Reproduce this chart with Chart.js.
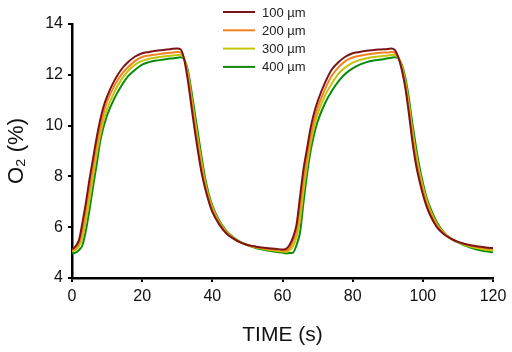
<!DOCTYPE html>
<html>
<head>
<meta charset="utf-8">
<script src="https://cdn.jsdelivr.net/npm/chart.js@4.4.0/dist/chart.umd.min.js"></script>
<style>
  html, body { margin: 0; padding: 0; background: #fff; }
  #wrap { width: 512px; height: 352px; }
</style>
</head>
<body>
<div id="wrap"><canvas id="chart" width="512" height="352"></canvas></div>
<script>
// time in seconds
const times = [0,1,2,3,4,5,6,7,8,9,10,12,14,16,18,20,22,24,26,28,30,31,32,33,34,35,36,37,38,39,40,42,44,46,48,50,52,54,56,58,60,61,62,63,64,65,66,67,68,69,70,72,74,76,78,80,82,84,86,88,90,91,92,93,94,95,96,97,98,99,100,101,102,104,106,108,110,112,114,116,118,120]

// O2 (%) for each depth
const o2_100 = [5.13,5.25,5.5,6.2,7.0,7.9,8.7,9.5,10.2,10.75,11.15,11.75,12.2,12.5,12.72,12.85,12.9,12.95,12.98,13.01,13.04,13.0,12.6,11.8,10.8,9.8,8.9,8.1,7.5,7.0,6.6,6.1,5.75,5.55,5.4,5.3,5.25,5.2,5.17,5.15,5.12,5.15,5.3,5.6,6.1,7.2,8.3,9.1,9.9,10.5,10.95,11.65,12.2,12.5,12.72,12.85,12.9,12.95,12.98,13.0,13.02,13.04,12.98,12.7,12.2,11.5,10.5,9.4,8.5,7.85,7.3,6.85,6.5,6.0,5.72,5.55,5.42,5.34,5.28,5.24,5.2,5.18]
const o2_200 = [5.1,5.18,5.38,5.9,6.7,7.55,8.4,9.2,9.9,10.5,10.95,11.55,12.0,12.3,12.55,12.7,12.76,12.8,12.84,12.87,12.9,12.88,12.6,11.95,11.0,10.0,9.1,8.3,7.6,7.1,6.7,6.15,5.78,5.56,5.4,5.3,5.23,5.18,5.14,5.11,5.08,5.08,5.18,5.45,5.85,6.8,7.9,8.8,9.6,10.2,10.7,11.4,11.95,12.3,12.55,12.68,12.75,12.8,12.84,12.87,12.88,12.9,12.87,12.68,12.25,11.6,10.7,9.6,8.7,8.0,7.45,6.95,6.6,6.07,5.75,5.55,5.42,5.33,5.26,5.21,5.17,5.14]
const o2_300 = [5.05,5.1,5.25,5.6,6.3,7.1,8.0,8.85,9.6,10.2,10.65,11.3,11.8,12.15,12.4,12.55,12.63,12.68,12.72,12.75,12.78,12.79,12.62,12.1,11.2,10.25,9.35,8.5,7.75,7.2,6.78,6.2,5.82,5.58,5.41,5.3,5.22,5.16,5.11,5.07,5.04,5.02,5.08,5.25,5.6,6.3,7.45,8.45,9.3,9.95,10.45,11.15,11.65,12.05,12.3,12.48,12.58,12.65,12.7,12.73,12.76,12.78,12.79,12.67,12.35,11.75,10.9,9.85,8.95,8.2,7.6,7.1,6.7,6.13,5.77,5.55,5.41,5.3,5.22,5.16,5.11,5.08]
const o2_400 = [4.97,5.0,5.1,5.3,5.9,6.7,7.6,8.45,9.35,9.95,10.4,11.05,11.55,11.95,12.2,12.4,12.5,12.56,12.6,12.64,12.67,12.69,12.6,12.2,11.4,10.5,9.6,8.7,7.9,7.3,6.85,6.25,5.85,5.6,5.42,5.3,5.2,5.13,5.08,5.03,5.0,4.97,4.98,5.0,5.3,5.8,7.0,8.1,9.0,9.65,10.15,10.85,11.35,11.75,12.05,12.25,12.4,12.5,12.56,12.6,12.65,12.67,12.69,12.65,12.4,11.9,11.1,10.1,9.2,8.4,7.75,7.2,6.8,6.2,5.8,5.55,5.4,5.28,5.18,5.1,5.05,5.01]

const seriesLabels = ['100 \u00b5m', '200 \u00b5m', '300 \u00b5m', '400 \u00b5m']
const seriesColors = ['#7b1416', '#f58220', '#c4c40a', '#0a8a0a']
const xTicks = [0, 20, 40, 60, 80, 100, 120]
const yTicks = [4, 6, 8, 10, 12, 14]

const toPoints = (vals) => vals.map((v, i) => ({ x: times[i], y: v }))

// little legend in the top middle, lines + labels stacked
const stackedLegend = {
    id: 'stackedLegend',
    afterDraw(chart) {
        const ctx = chart.ctx
        ctx.save()
        ctx.font = '13px "Liberation Sans", Arial, sans-serif'
        ctx.textBaseline = 'middle'
        chart.data.datasets.forEach((ds, i) => {
            const y = 12 + i * 18.3
            ctx.strokeStyle = ds.borderColor
            ctx.lineWidth = 2
            ctx.beginPath()
            ctx.moveTo(223, y)
            ctx.lineTo(255, y)
            ctx.stroke()
            ctx.fillStyle = '#222'
            ctx.fillText(ds.label, 262, y + 1)
        })
        ctx.restore()
    }
}

new Chart(document.getElementById('chart'), {
    type: 'line',
    data: {
        datasets: [o2_100, o2_200, o2_300, o2_400].map((vals, i) => ({
            label: seriesLabels[i],
            data: toPoints(vals),
            borderColor: seriesColors[i],
            borderWidth: 2,
            pointRadius: 0,
            cubicInterpolationMode: 'monotone',
            fill: false
        }))
    },
    options: {
        responsive: false,
        animation: false,
        layout: { padding: { top: 24, right: 19, left: 0, bottom: 0 } },
        plugins: {
            legend: { display: false },
            tooltip: { enabled: false }
        },
        scales: {
            x: {
                type: 'linear',
                min: 0,
                max: 120,
                afterBuildTicks: (axis) => { axis.ticks = xTicks.map(v => ({ value: v })) },
                afterFit: (axis) => { axis.height = 74 },
                grid: { drawOnChartArea: false, drawTicks: true, tickLength: 4, color: '#000', lineWidth: 2 },
                border: { color: '#000', width: 2.5 },
                ticks: {
                    color: '#111',
                    padding: 5,
                    maxRotation: 0,
                    font: { family: '"Liberation Sans", Arial, sans-serif', size: 16 }
                },
                title: {
                    display: true,
                    text: 'TIME (s)',
                    color: '#111',
                    padding: { top: 8 },
                    font: { family: '"Liberation Sans", Arial, sans-serif', size: 21 }
                }
            },
            y: {
                min: 4,
                max: 14,
                afterBuildTicks: (axis) => { axis.ticks = yTicks.map(v => ({ value: v })) },
                afterFit: (axis) => { axis.width = 72 },
                grid: { drawOnChartArea: false, drawTicks: true, tickLength: 4, color: '#000', lineWidth: 2 },
                border: { color: '#000', width: 2.5 },
                ticks: {
                    color: '#111',
                    padding: 5,
                    font: { family: '"Liberation Sans", Arial, sans-serif', size: 16 }
                },
                title: {
                    display: true,
                    text: 'O\u2082 (%)',
                    color: '#111',
                    padding: { bottom: 4 },
                    font: { family: '"Liberation Sans", Arial, sans-serif', size: 22 }
                }
            }
        }
    },
    plugins: [stackedLegend]
})
</script>
</body>
</html>
